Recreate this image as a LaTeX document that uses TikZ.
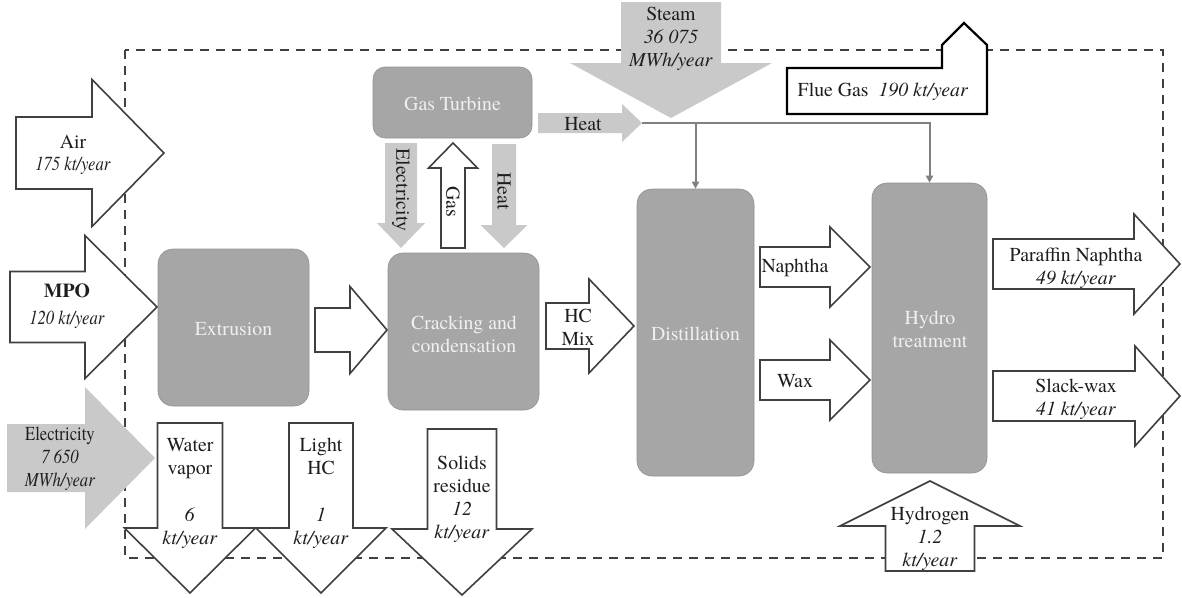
\documentclass[tikz,border=0pt]{standalone}
\usepackage{fontspec}
\setmainfont{TeX Gyre Termes}
\usepackage{graphicx}
\usetikzlibrary{arrows.meta}
\definecolor{boxgray}{RGB}{166,166,166}
\definecolor{lgray}{RGB}{201,201,201}
\definecolor{edgegray}{RGB}{64,64,64}
\definecolor{linegray}{RGB}{128,128,128}
\definecolor{txt}{RGB}{30,30,30}
% style, xleft, xhead, xtip, yc, bodyhalf, headhalf
\newcommand\myRarrow[7]{\path[#1] (#2,#5-#6) -- (#3,#5-#6) -- (#3,#5-#7) -- (#4,#5) -- (#3,#5+#7) -- (#3,#5+#6) -- (#2,#5+#6) -- cycle;}
% style, xc, bodyhalf, headhalf, ybase, yhead, ytip
\newcommand\myVarrow[7]{\path[#1] (#2-#3,#5) -- (#2+#3,#5) -- (#2+#3,#6) -- (#2+#4,#6) -- (#2,#7) -- (#2-#4,#6) -- (#2-#3,#6) -- cycle;}
\newcommand\cnd[1]{\scalebox{0.84}[1]{#1}}
\begin{document}
\begin{tikzpicture}[x=1pt,y=-1pt,
  wa/.style={fill=white,draw=edgegray,line width=1.6pt,line join=miter},
  ga/.style={fill=lgray,draw=none},
  box/.style={fill=boxgray,draw=boxgray!88!black,line width=0.6pt,rounded corners=15pt,inner sep=0pt},
  lbl/.style={text=txt,font=\fontsize{19.8}{23}\selectfont,align=center,inner sep=0pt},
  btxt/.style={text=white!94!black,font=\fontsize{19.8}{23}\selectfont,align=center,inner sep=0pt},
  conn/.style={draw=linegray,line width=2pt,-{Triangle[length=7pt,width=7pt]}}]
\useasboundingbox (0,0) rectangle (1182,597);
% system boundary
\draw[edgegray,line width=1.8pt,dash pattern=on 9pt off 7pt] (125,50) rectangle (1163,558);
% boxes
\node[box,rounded corners=12pt,minimum width=159pt,minimum height=71pt] (gt) at (452.5,102.5) {};
\node[box,minimum width=151pt,minimum height=157pt] (extr) at (233.5,327.5) {};
\node[box,minimum width=151pt,minimum height=157pt] (crack) at (463.5,331.5) {};
\node[box,minimum width=117pt,minimum height=287pt] (dist) at (695.5,332.5) {};
\node[box,minimum width=115pt,minimum height=290pt] (hydro) at (929.5,328) {};
\node[btxt] (gtt) at (452.5,104) {Gas Turbine};
\node[btxt] (extrt) at (233.5,329) {Extrusion};
\node[btxt] (crackt) at (464,334) {Cracking and\\condensation};
\node[btxt] (distt) at (695.5,334) {Distillation};
\node[btxt] (hydrot) at (930,329) {Hydro\\treatment};
% heat distribution lines
\coordinate (ht) at (642,123);
\coordinate (hb) at (695.5,123);
\draw[conn] (ht) -- (ht -| hydro.north) -- (hydro.north);
\draw[conn] (hb) -- (dist.north);
% arrows
\myRarrow{wa}{16}{92}{164}{153}{36}{73.5}
\myRarrow{wa}{10}{85}{157}{307}{35.5}{71.5}
\myRarrow{ga}{7}{85}{155}{458}{34}{71}
\myRarrow{wa}{315}{350}{387}{330}{22}{43.5}
\myRarrow{wa}{546}{589}{634}{326}{23}{47}
\myRarrow{wa}{760}{830}{870}{267}{20}{40}
\myRarrow{wa}{760}{830}{870}{380}{20}{40}
\myRarrow{wa}{993}{1134}{1180}{264}{25}{50}
\myRarrow{wa}{993}{1135}{1180}{396}{25}{50}
\myRarrow{ga}{538}{622}{642}{123}{10}{19}
\myVarrow{ga}{671}{50}{101}{2}{63}{118}
\myVarrow{ga}{401}{16}{24}{143}{223}{248}
\myVarrow{wa}{453}{12}{24.5}{248}{168}{143}
\myVarrow{ga}{504}{12}{23.5}{144}{225}{248}
\myVarrow{wa}{190}{32.5}{65.5}{423}{528}{593}
\myVarrow{wa}{321}{32}{65}{423}{528}{593}
\myVarrow{wa}{462}{34.5}{70}{429}{529}{595}
\myVarrow{wa}{930}{44.5}{90}{571}{526}{481}
% flue gas
\path[fill=white,draw=black,line width=2.2pt,line join=miter] (787,68) -- (942,68) -- (942,45) -- (964,23) -- (987,45) -- (987,114) -- (787,114) -- cycle;
% labels
\node[lbl] (airt) at (73,155) {Air\\[-1pt]\cnd{\textit{175 kt/year}}};
\node[lbl] (mpot) at (67,306) {\textbf{MPO}\\[4pt]\cnd{\textit{120 kt/year}}};
\node[lbl] (elt) at (60,459) {\cnd{Electricity}\\\cnd{\textit{7 650}}\\\cnd{\textit{MWh/year}}};
\node[lbl] (heatt) at (583,124) {Heat};
\node[lbl] (steamt) at (671,39) {Steam\\\textit{36 075}\\\textit{MWh/year}};
\node[lbl] (fluet) at (883,92) {Flue Gas\ \ \textit{190 kt/year}};
\node[lbl,rotate=-90] (elst) at (401,190) {Electricity};
\node[lbl,rotate=-90] (gast) at (453,202) {Gas};
\node[lbl,rotate=-90] (heatst) at (504,191) {Heat};
\node[lbl] (hcmt) at (578,327) {HC\\Mix};
\node[lbl] (napt) at (795,268) {Naphtha};
\node[lbl] (waxt) at (795,381) {Wax};
\node[lbl] (part) at (1076,268) {Paraffin Naphtha\\\textit{49 kt/year}};
\node[lbl] (slackt) at (1076,399) {Slack-wax\\\textit{41 kt/year}};
\node[lbl] (h2t) at (930,539) {Hydrogen\\\textit{1.2}\\\textit{kt/year}};
\node[lbl] (wvt) at (190,493) {Water\\vapor\\[24pt]\textit{6}\\\textit{kt/year}};
\node[lbl] (lhct) at (321,493) {Light\\HC\\[24pt]\textit{1}\\\textit{kt/year}};
\node[lbl] (solt) at (462,499) {Solids\\residue\\\textit{12}\\\textit{kt/year}};
\end{tikzpicture}
\end{document}
